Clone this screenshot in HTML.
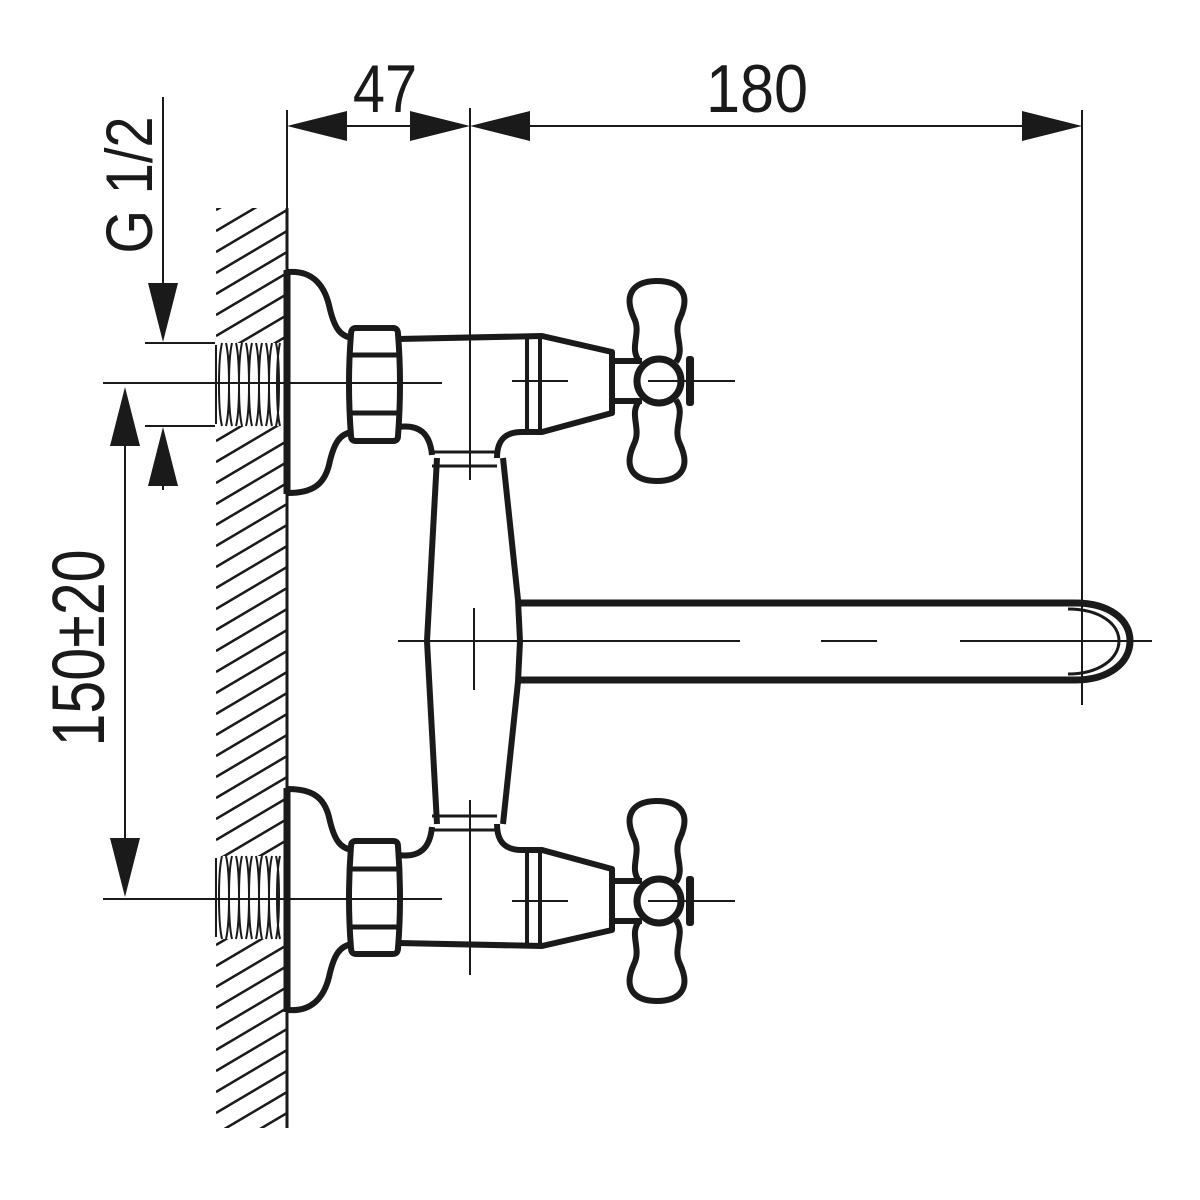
<!DOCTYPE html>
<html><head><meta charset="utf-8"><style>html,body{margin:0;padding:0;background:#fff}svg{display:block}</style></head><body>
<svg width="1200" height="1200" viewBox="0 0 1200 1200" xmlns="http://www.w3.org/2000/svg">
<defs>
<clipPath id="hc"><rect x="216" y="208" width="71" height="920"/></clipPath>
<pattern id="hp" patternUnits="userSpaceOnUse" x="216" y="0" width="71" height="21">
 <g stroke="#1a1a1a" stroke-width="2.5">
  <line x1="0" y1="0" x2="71" y2="-42"/>
  <line x1="0" y1="21" x2="71" y2="-21"/>
  <line x1="0" y1="42" x2="71" y2="0"/>
  <line x1="0" y1="63" x2="71" y2="21"/>
 </g>
</pattern>
<g id="valve" fill="none" stroke="#1a1a1a" stroke-linejoin="round">
 <rect x="214" y="343" width="70" height="83" fill="#fff" stroke="none"/>
 <g stroke-width="2">
  <path d="M216,345 L216,424"/>
  <path d="M222,343 C218,360 218,410 222,426 M232,343 C228,360 228,410 232,426 M242,343 C238,360 238,410 242,426 M252,343 C248,360 248,410 252,426 M262,343 C258,360 258,410 262,426 M272,343 C268,360 268,410 272,426 M280,343 C276,360 276,410 280,426"/>
  <path d="M226,343 C230,360 230,410 226,426 M236,343 C240,360 240,410 236,426 M246,343 C250,360 250,410 246,426 M256,343 C260,360 260,410 256,426 M266,343 C270,360 270,410 266,426 M276,343 C280,360 280,410 276,426"/>
 </g>
 <path stroke-width="7" d="M287,270 L287,494"/>
 <path stroke-width="6" d="M288,272 C312,270 324,285 329,305 C334,328 340,336 352,338 M352,432 C340,434 334,442 329,465 C324,485 312,493 288,493"/>
 <path stroke-width="6" d="M356,328 L393,328 Q398,328 398,334 Q402,383 398,436 Q398,441 393,441 L356,441 Q351,441 351,436 Q347,383 351,334 Q351,328 356,328 Z"/>
 <path stroke-width="5" d="M352,355 L397,355 M352,413 L397,413"/>
 <path stroke-width="6" d="M398,339 L542,336 L612,352 L612,413 L542,432 L522,432 C505,432 497,440 497,458"/>
 <path stroke-width="6" d="M398,427 C420,424 430,434 432,455"/>
 <path stroke-width="4" d="M527,336 L527,432 M540,336 L540,432"/>
 <path stroke-width="3" d="M432,452 L497,452 M432,466 L497,466"/>
 <path stroke-width="6" d="M612,361 L642,361 M612,401 L642,401"/>
 <path stroke-width="6" d="M640,362 C628,348 642,334 634,318 C622,292 636,281 657,281 C678,281 692,292 680,318 C672,334 686,348 676,362 M640,400 C628,414 642,428 634,444 C622,470 636,481 657,481 C678,481 692,470 680,444 C672,428 686,414 676,400"/>
 <rect x="686" y="356" width="8" height="50" rx="3" fill="#1a1a1a" stroke="none"/>
 <circle cx="659" cy="381" r="22" stroke-width="7" fill="#fff"/>
 <g stroke-width="2">
  <path d="M103,383 L442,383 M512,381 L568,381 M648,381 L735,381"/>
 </g>
</g>
</defs>
<rect x="216" y="208" width="71" height="920" fill="url(#hp)" clip-path="url(#hc)"/>
<line x1="287" y1="208" x2="287" y2="1128" stroke="#1a1a1a" stroke-width="3"/>
<use href="#valve"/>
<use href="#valve" transform="translate(0,1282) scale(1,-1)"/>
<g fill="none" stroke="#1a1a1a" stroke-width="6">
 <path d="M437,458 L427,641 L437,824"/>
 <path d="M503,458 L518,600 L520,641 L518,682 L503,824"/>
 <path d="M518,603 L1075,603 C1110,603 1130,620 1130,641 C1130,662 1110,680 1075,680 L518,680" stroke-width="7"/>
 <path d="M1068,609 C1100,609 1119,624 1119,641 C1119,658 1100,674 1068,674" stroke-width="3"/>
</g>
<g fill="none" stroke="#1a1a1a" stroke-width="2">
 <path d="M470,108 L470,480 M470,800 L470,975"/>
 <path d="M398,641 L740,641 M821,641 L877,641 M960,641 L1152,641 M474,608 L474,690"/>
 <path d="M1082,110 L1082,705"/>
 <path d="M287,110 L287,210"/>
 <path d="M103,899 L442,899 M145,343 L215,343 M145,426 L215,426"/>
 <path d="M163,97 L163,300 M163,470 L163,490 M125,420 L125,860"/>
 <path d="M340,126 L420,126 M530,126 L1030,126"/>
</g>
<g fill="#1a1a1a">
 <polygon points="287,126 347,111 347,141"/>
 <polygon points="470,126 410,111 410,141"/>
 <polygon points="470,126 530,111 530,141"/>
 <polygon points="1082,126 1022,111 1022,141"/>
 <polygon points="163,342 148,283 178,283"/>
 <polygon points="163,427 148,486 178,486"/>
 <polygon points="125,387 110,446 140,446"/>
 <polygon points="125,897 110,838 140,838"/>
</g>
<g font-family="Liberation Sans, sans-serif" fill="#1a1a1a">
 <text x="385" y="112" font-size="68" text-anchor="middle" transform="translate(385,0) scale(0.85,1) translate(-385,0)">47</text>
 <text x="757" y="112" font-size="68" text-anchor="middle" transform="translate(757,0) scale(0.9,1) translate(-757,0)">180</text>
 <text x="0" y="0" font-size="66" text-anchor="middle" transform="translate(152,185) rotate(-90) scale(0.85,1)">G 1/2</text>
 <text x="0" y="0" font-size="74" text-anchor="middle" transform="translate(104,648) rotate(-90) scale(0.8,1)">150±20</text>
</g>
</svg>
</body></html>
